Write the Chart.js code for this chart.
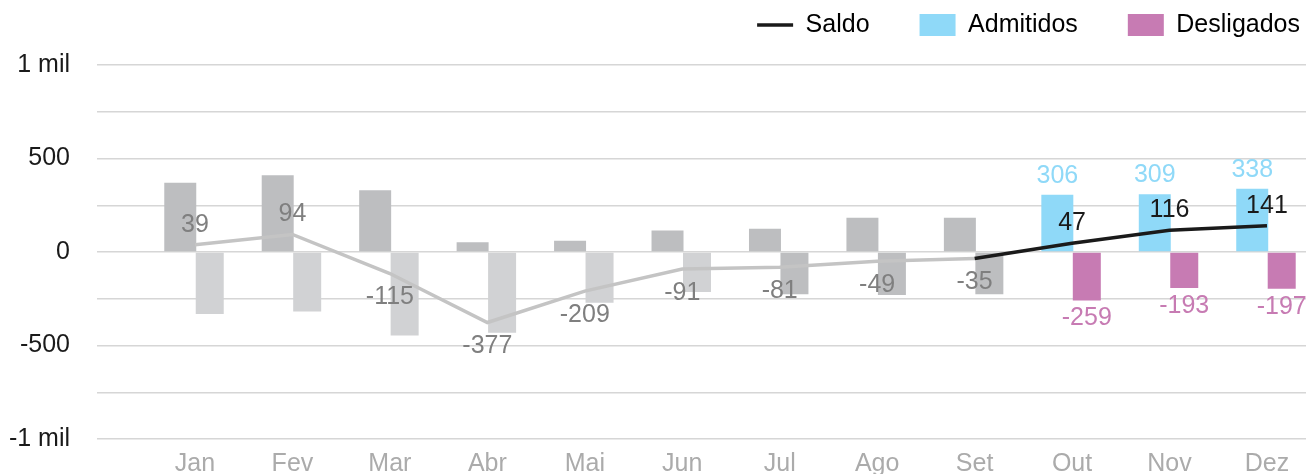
<!DOCTYPE html>
<html>
<head>
<meta charset="utf-8">
<script src="https://cdn.jsdelivr.net/npm/chart.js@4"></script>
<style>
  html, body { margin: 0; padding: 0; overflow: hidden; background: #fff; }
  #wrap { position: absolute; left: 0; top: 0; }
</style>
</head>
<body>
<div id="wrap"><canvas id="saldo" width="1350" height="482"></canvas></div>
<script>
const months = ['Jan', 'Fev', 'Mar', 'Abr', 'Mai', 'Jun', 'Jul', 'Ago', 'Set', 'Out', 'Nov', 'Dez'];
const admitidos = [370, 411, 330, 52, 60, 115, 125, 183, 183, 306, 309, 338];
const desligados = [-331, -318, -446, -432, -272, -214, -226, -230, -226, -259, -193, -197];
const saldo = [39, 94, -115, -377, -209, -91, -81, -49, -35, 47, 116, 141];
const yTicks = { '1000': '1 mil', '500': '500', '0': '0', '-500': '-500', '-1000': '-1 mil' };

const FONT = "'Liberation Sans', Arial, sans-serif";
const highlightFrom = 9; // Out..Dez in colour, rest greyed
const BLUE = '#8fd9f8';
const PINK = '#c77bb3';
const GREY_DARK = '#bdbec0';
const GREY_LIGHT = '#d1d2d4';

Chart.defaults.font.family = FONT;
Chart.defaults.font.size = 25;

const admColor = (i) => i >= highlightFrom ? BLUE : GREY_DARK;
const deslColor = (i) => i >= highlightFrom ? PINK : (i >= 6 ? GREY_DARK : GREY_LIGHT);

const toPoints = (arr) => arr.map((v, i) => ({ x: i, y: v }));

// draws the numbers next to points and bars
const valueLabels = {
  id: 'valueLabels',
  afterDatasetsDraw(chart) {
    const ctx = chart.ctx;
    ctx.save();
    ctx.font = '25px ' + FONT;
    ctx.textAlign = 'center';
    ctx.textBaseline = 'middle';
    chart.data.datasets.forEach((ds, di) => {
      const meta = chart.getDatasetMeta(di);
      meta.data.forEach((el, i) => {
        const v = ds.data[i].y;
        let color = null, dy = 0;
        if (ds.label === 'Saldo') {
          color = i >= highlightFrom ? '#1a1a1a' : '#7f7f7f';
          dy = v >= 0 ? -20 : 24;
        } else if (i >= highlightFrom) {
          color = ds.label === 'Admitidos' ? BLUE : PINK;
          dy = v >= 0 ? -19 : 18;
        }
        if (!color) return;
        ctx.fillStyle = color;
        ctx.fillText(String(v), el.x, el.y + dy);
      });
    });
    ctx.restore();
  }
};

const legendItems = [
  { text: 'Saldo', fillStyle: '#1a1a1a', strokeStyle: '#1a1a1a', lineWidth: 3.5, pointStyle: 'line', datasetIndex: 0 },
  { text: 'Admitidos', fillStyle: BLUE, strokeStyle: BLUE, lineWidth: 0, pointStyle: 'rect', datasetIndex: 1 },
  { text: 'Desligados', fillStyle: PINK, strokeStyle: PINK, lineWidth: 0, pointStyle: 'rect', datasetIndex: 2 }
];

new Chart(document.getElementById('saldo'), {
  type: 'bar',
  data: {
    datasets: [
      {
        type: 'line',
        label: 'Saldo',
        data: toPoints(saldo),
        order: 0,
        borderWidth: 3.5,
        borderColor: '#c4c4c4',
        segment: {
          borderColor: (c) => c.p0DataIndex >= highlightFrom - 1 ? '#1a1a1a' : '#c4c4c4'
        },
        pointRadius: 0,
        tension: 0
      },
      {
        label: 'Admitidos',
        data: toPoints(admitidos),
        order: 1,
        backgroundColor: admitidos.map((v, i) => admColor(i)),
        categoryPercentage: 0.605,
        barPercentage: 1.085
      },
      {
        label: 'Desligados',
        data: toPoints(desligados),
        order: 1,
        backgroundColor: desligados.map((v, i) => deslColor(i)),
        categoryPercentage: 0.605,
        barPercentage: 0.95
      }
    ]
  },
  options: {
    responsive: false,
    animation: false,
    devicePixelRatio: 1,
    layout: { padding: { top: -37.5, left: 9, right: 0, bottom: 0 } },
    plugins: {
      legend: {
        position: 'top',
        align: 'end',
        labels: {
          usePointStyle: true,
          pointStyleWidth: 36,
          boxHeight: 22,
          padding: 50,
          color: '#1a1a1a',
          font: { size: 25 },
          generateLabels: () => legendItems
        }
      },
      // empty title used as a spacer between legend and plot
      title: {
        display: true,
        text: '',
        weight: 500,
        font: { size: 10, lineHeight: 1 },
        padding: { top: 7.5, bottom: 0 }
      },
      tooltip: { enabled: false }
    },
    scales: {
      x: {
        type: 'linear',
        offset: false,
        min: -1.0056,
        max: 11.852,
        grid: { display: false },
        border: { display: false },
        ticks: {
          stepSize: 1,
          autoSkip: false,
          includeBounds: false,
          maxRotation: 0,
          maxTicksLimit: 30,
          padding: 2.5,
          color: '#ababab',
          font: { size: 25 },
          callback: (v) => (Number.isInteger(v) && months[v]) ? months[v] : ''
        }
      },
      y: {
        min: -1000,
        max: 1000,
        grid: { color: '#d6d6d6', lineWidth: 1.5, drawTicks: false },
        border: { display: false },
        afterFit: (s) => { s.width = 88; },
        ticks: {
          stepSize: 250,
          padding: 27,
          color: '#1a1a1a',
          font: { size: 25 },
          callback: (v) => yTicks[String(v)] || ''
        }
      }
    }
  },
  plugins: [valueLabels]
});
</script>
</body>
</html>
